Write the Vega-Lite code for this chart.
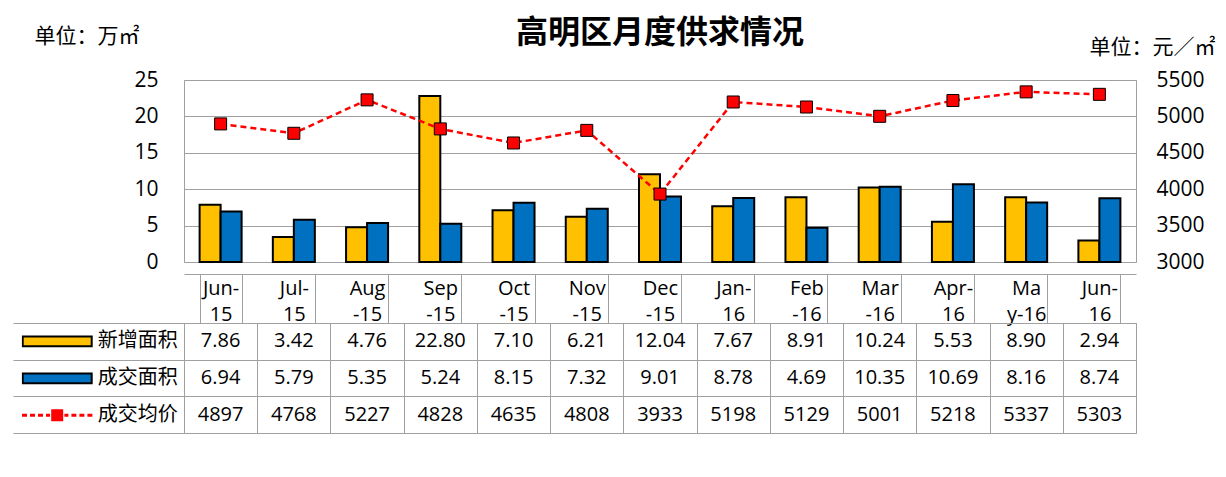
{
  "$schema": "https://vega.github.io/schema/vega-lite/v6.json",
  "padding": {"left": 12, "top": 16, "right": 5, "bottom": 5},
  "background": "white",
  "config": {
    "view": {"stroke": "#A0A0A0", "strokeWidth": 1},
    "axis": {"labelFont": "Open Sans", "labelColor": "#000000", "titleFont": "Noto Sans CJK SC", "titleColor": "#000000"}
  },
  "datasets": {
    "monthly": [
      {"month": "Jun-15", "新增面积": 7.86, "成交面积": 6.94, "成交均价": 4897},
      {"month": "Jul-15", "新增面积": 3.42, "成交面积": 5.79, "成交均价": 4768},
      {"month": "Aug-15", "新增面积": 4.76, "成交面积": 5.35, "成交均价": 5227},
      {"month": "Sep-15", "新增面积": 22.80, "成交面积": 5.24, "成交均价": 4828},
      {"month": "Oct-15", "新增面积": 7.10, "成交面积": 8.15, "成交均价": 4635},
      {"month": "Nov-15", "新增面积": 6.21, "成交面积": 7.32, "成交均价": 4808},
      {"month": "Dec-15", "新增面积": 12.04, "成交面积": 9.01, "成交均价": 3933},
      {"month": "Jan-16", "新增面积": 7.67, "成交面积": 8.78, "成交均价": 5198},
      {"month": "Feb-16", "新增面积": 8.91, "成交面积": 4.69, "成交均价": 5129},
      {"month": "Mar-16", "新增面积": 10.24, "成交面积": 10.35, "成交均价": 5001},
      {"month": "Apr-16", "新增面积": 5.53, "成交面积": 10.69, "成交均价": 5218},
      {"month": "May-16", "新增面积": 8.90, "成交面积": 8.16, "成交均价": 5337},
      {"month": "Jun-16", "新增面积": 2.94, "成交面积": 8.74, "成交均价": 5303}
    ]
  },
  "bounds": "flush",
  "spacing": 61,
  "vconcat": [
    {
      "width": 952,
      "height": 182,
      "title": {"text": "高明区月度供求情况", "font": "Noto Sans CJK SC", "fontSize": 32, "fontWeight": "bold", "color": "#000000", "anchor": "middle", "offset": -25},
      "data": {"name": "monthly"},
      "layer": [
        {
          "transform": [{"fold": ["新增面积", "成交面积"], "as": ["series", "value"]}],
          "mark": {"type": "bar", "stroke": "#000000", "strokeWidth": 2},
          "encoding": {
            "x": {
              "field": "month", "type": "nominal", "sort": null,
              "scale": {"paddingInner": 0.4265, "paddingOuter": 0.2132},
              "axis": {
                "title": null, "orient": "bottom", "offset": 12,
                "domain": true, "domainColor": "#A0A0A0", "domainWidth": 1,
                "ticks": true, "tickBand": "extent", "tickSize": 49, "tickColor": "#A0A0A0", "tickWidth": 1,
                "grid": false, "labelAngle": 0, "labelFontSize": 20, "labelPadding": -35,
                "labelBaseline": "middle", "labelLineHeight": 26, "labelOverlap": false, "labelBound": false,
                "labelExpr": "indexof(['Jun-15','Jul-15','Jan-16','Apr-16','Jun-16'], datum.label) >= 0 ? [slice(datum.label,0,4), slice(datum.label,4)] : (datum.label === 'May-16' ? ['Ma','y-16'] : [slice(datum.label,0,3), slice(datum.label,3)])"
              }
            },
            "xOffset": {"field": "series", "type": "nominal", "sort": ["新增面积", "成交面积"]},
            "y": {
              "field": "value", "type": "quantitative",
              "scale": {"domain": [0, 25]},
              "axis": {
                "title": "单位：万㎡", "values": [0, 5, 10, 15, 20, 25],
                "domain": false, "ticks": false, "grid": true, "gridColor": "#A0A0A0",
                "labelFontSize": 21, "labelPadding": 26,
                "titleAngle": 0, "titleFontSize": 21, "titleFontWeight": "normal",
                "titleAlign": "left", "titleBaseline": "middle", "titleX": -150, "titleY": -44
              }
            },
            "color": {
              "field": "series", "type": "nominal",
              "scale": {"domain": ["新增面积", "成交面积", "成交均价"], "range": ["#FFC000", "#0070C0", "#FF0000"]},
              "legend": {
                "orient": "none", "legendX": -162.3, "legendY": 243, "direction": "vertical", "title": null,
                "symbolSize": 4761, "clipHeight": 36.6, "rowPadding": 0, "symbolStrokeWidth": 2,
                "symbolType": {"expr": "datum.value === '成交均价' ? 'M-0.991,-0.0145H-0.904V0.0145H-0.991ZM-0.759,-0.0145H-0.672V0.0145H-0.759ZM-0.528,-0.0145H-0.441V0.0145H-0.528ZM-0.296,-0.0145H-0.238V0.0145H-0.296ZM0.238,-0.0145H0.296V0.0145H0.238ZM0.441,-0.0145H0.528V0.0145H0.441ZM0.672,-0.0145H0.759V0.0145H0.672ZM0.904,-0.0145H0.991V0.0145H0.904ZM-0.145,-0.145H0.145V0.145H-0.145Z' : 'M-1,-0.14H1V0.14H-1Z'"},
                "symbolStrokeColor": {"expr": "datum.value === '成交均价' ? '#FF0000' : '#000000'"},
                "labelFont": "Noto Sans CJK SC", "labelFontSize": 20, "labelColor": "#000000", "labelOffset": 5
              }
            }
          }
        },
        {
          "encoding": {
            "x": {"field": "month", "type": "nominal", "sort": null},
            "y": {
              "field": "成交均价", "type": "quantitative",
              "scale": {"domain": [3000, 5500]},
              "axis": {
                "orient": "right", "title": "单位：元／㎡", "values": [3000, 3500, 4000, 4500, 5000, 5500], "format": "d",
                "domain": false, "ticks": false, "grid": false,
                "labelFontSize": 21, "labelPadding": 20,
                "titleAngle": 0, "titleFontSize": 21, "titleFontWeight": "normal",
                "titleAlign": "right", "titleBaseline": "middle", "titleX": 79, "titleY": -33
              }
            }
          },
          "layer": [
            {"mark": {"type": "line", "color": "#FF0000", "strokeWidth": 2.5, "strokeDash": [6, 4]}},
            {"mark": {"type": "point", "shape": "square", "size": 144, "filled": true, "fill": "#FF0000", "stroke": "#000000", "strokeWidth": 1, "opacity": 1}}
          ]
        }
      ],
      "resolve": {"scale": {"y": "independent"}}
    },
    {
      "width": 952,
      "height": 110,
      "data": {"name": "monthly"},
      "transform": [{"fold": ["新增面积", "成交面积", "成交均价"], "as": ["row", "val"]}],
      "encoding": {
        "x": {
          "field": "month", "type": "nominal", "sort": null,
          "scale": {"type": "band", "paddingInner": 0, "paddingOuter": 0},
          "axis": {"title": null, "orient": "top", "labels": false, "ticks": false, "domain": false, "grid": true, "tickBand": "extent", "gridColor": "#A0A0A0"}
        },
        "y": {
          "field": "row", "type": "nominal",
          "scale": {"type": "band", "domain": ["新增面积", "成交面积", "成交均价"], "paddingInner": 0, "paddingOuter": 0},
          "axis": {"title": null, "labels": false, "domain": false, "ticks": true, "tickBand": "extent", "tickSize": 171, "tickColor": "#A0A0A0", "grid": true, "gridColor": "#A0A0A0"}
        }
      },
      "layer": [
        {
          "transform": [{"filter": "datum.row !== '成交均价'"}],
          "mark": {"type": "text", "font": "Open Sans", "fontSize": 20, "color": "#000000"},
          "encoding": {"text": {"field": "val", "type": "quantitative", "format": ".2f"}}
        },
        {
          "transform": [{"filter": "datum.row === '成交均价'"}],
          "mark": {"type": "text", "font": "Open Sans", "fontSize": 20, "color": "#000000"},
          "encoding": {"text": {"field": "val", "type": "quantitative", "format": "d"}}
        }
      ]
    }
  ]
}
